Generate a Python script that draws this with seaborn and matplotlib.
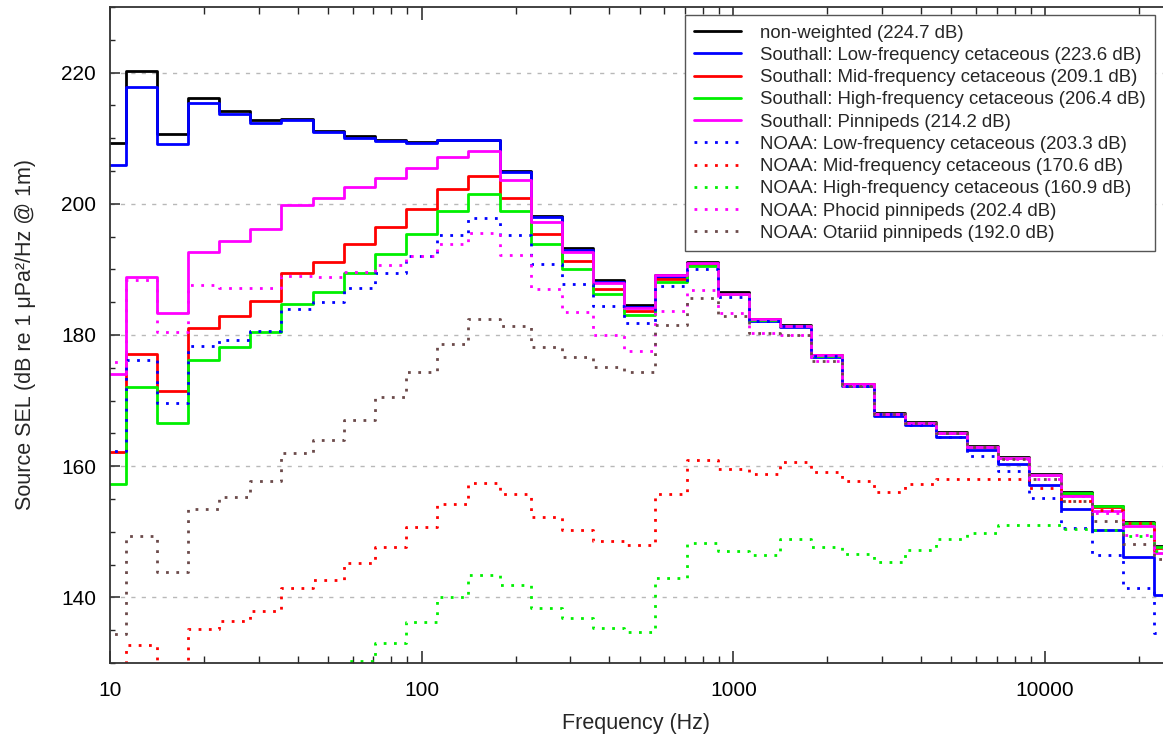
import numpy as np
import pandas as pd
import matplotlib
matplotlib.use("Agg")
import matplotlib.pyplot as plt
from matplotlib.ticker import FixedLocator, MultipleLocator, LogLocator, NullFormatter, FuncFormatter
import seaborn as sns

# 1/3-octave band centre frequencies (Hz)
band_centers_hz = [10, 12.5, 16, 20, 25, 31.5, 40, 50, 63, 80, 100, 125, 160, 200, 250,
                   315, 400, 500, 630, 800, 1000, 1250, 1600, 2000, 2500, 3150, 4000,
                   5000, 6300, 8000, 10000, 12500, 16000, 20000, 25000]

# Source SEL per band (dB re 1 uPa^2/Hz @ 1m)
non_weighted = [209.3, 220.2, 210.6, 216.2, 214.2, 212.7, 213.0, 211.1, 210.3, 209.7, 209.4,
                209.8, 209.8, 205.0, 198.2, 193.3, 188.4, 184.5, 189.2, 191.1, 186.5, 182.5,
                181.5, 177.0, 172.6, 168.1, 166.7, 165.2, 163.1, 161.4, 158.8, 156.0, 154.0,
                151.5, 147.8]
southall_lf = [205.9, 217.8, 209.05, 215.3, 213.7, 212.3, 212.7, 210.9, 210.1, 209.6, 209.3,
               209.7, 209.7, 204.8, 198.0, 193.0, 188.1, 184.3, 188.9, 190.8, 186.2, 182.2,
               181.2, 176.7, 172.2, 167.7, 166.3, 164.5, 162.5, 160.4, 157.1, 153.5, 150.2,
               146.1, 140.3]
southall_mf = [162.2, 177.1, 171.5, 181.1, 182.9, 185.2, 189.4, 191.2, 193.8, 196.5, 199.2,
               202.2, 204.2, 200.9, 195.4, 191.3, 187.0, 183.6, 188.5, 190.6, 186.2, 182.4,
               181.4, 176.9, 172.5, 168.0, 166.6, 165.1, 163.0, 161.3, 158.7, 155.8, 153.8,
               151.3, 147.5]
southall_hf = [157.3, 172.1, 166.6, 176.2, 178.1, 180.5, 184.7, 186.5, 189.4, 192.3, 195.4,
               198.9, 201.5, 198.9, 193.8, 190.1, 186.2, 183.0, 188.1, 190.5, 186.2, 182.3,
               181.3, 176.8, 172.4, 168.0, 166.6, 165.1, 163.0, 161.3, 158.7, 155.9, 153.9,
               151.4, 147.7]
southall_pinn = [174.1, 188.9, 183.3, 192.7, 194.3, 196.1, 199.8, 200.9, 202.6, 204.0, 205.5,
                 207.1, 208.0, 203.7, 197.3, 192.7, 187.9, 184.1, 189.1, 191.0, 186.3, 182.4,
                 181.4, 176.9, 172.5, 168.0, 166.6, 165.1, 163.0, 161.2, 158.6, 155.4, 153.2,
                 150.9, 146.8]
noaa_lf = [162.3, 176.2, 169.7, 178.3, 179.3, 180.65, 183.9, 185.0, 187.1, 189.4, 192.0,
           195.2, 197.8, 195.3, 190.8, 187.7, 184.4, 181.9, 187.5, 190.0, 185.8, 182.2,
           181.3, 176.8, 172.3, 167.9, 166.3, 164.4, 161.6, 159.2, 155.2, 150.6, 146.4,
           141.4, 134.5]
noaa_mf = [127.0, 132.7, 127.5, 135.2, 136.35, 137.9, 141.5, 142.7, 145.2, 147.7, 150.7,
           154.25, 157.4, 155.8, 152.2, 150.35, 148.6, 148.0, 155.8, 161.0, 159.5, 158.75,
           160.7, 159.1, 157.75, 156.1, 157.3, 158.1, 158.0, 158.1, 156.7, 154.75, 153.3,
           151.3, 147.3]
noaa_hf = [110.0, 114.0, 113.0, 117.0, 119.0, 121.0, 124.0, 127.5, 130.3, 133.05, 136.2,
           140.0, 143.35, 141.9, 138.4, 136.85, 135.3, 134.8, 142.9, 148.3, 147.1, 146.5,
           148.9, 147.65, 146.65, 145.4, 147.25, 148.9, 149.8, 151.0, 151.0, 150.45, 150.2,
           149.3, 147.0]
noaa_phocid = [175.85, 188.4, 180.4, 187.6, 187.2, 187.2, 189.0, 188.9, 189.6, 190.6, 192.0,
               193.8, 195.5, 192.2, 187.0, 183.5, 180.0, 177.6, 183.6, 186.8, 183.4, 180.35,
               180.0, 176.0, 172.25, 167.95, 166.6, 165.05, 162.9, 161.1, 158.05, 155.4, 152.9,
               149.5, 147.4]
noaa_otariid = [134.4, 149.3, 143.8, 153.4, 155.3, 157.7, 162.0, 164.0, 167.1, 170.6, 174.3,
                178.6, 182.4, 181.4, 178.2, 176.7, 175.1, 174.3, 181.5, 185.7, 182.9, 180.25,
                180.0, 176.0, 172.3, 167.9, 166.6, 165.0, 162.9, 161.1, 158.0, 154.65, 151.7,
                148.1, 145.8]

series_labels = [
    "non-weighted (224.7 dB)",
    "Southall: Low-frequency cetaceous (223.6 dB)",
    "Southall: Mid-frequency cetaceous (209.1 dB)",
    "Southall: High-frequency cetaceous (206.4 dB)",
    "Southall: Pinnipeds (214.2 dB)",
    "NOAA: Low-frequency cetaceous (203.3 dB)",
    "NOAA: Mid-frequency cetaceous (170.6 dB)",
    "NOAA: High-frequency cetaceous (160.9 dB)",
    "NOAA: Phocid pinnipeds (202.4 dB)",
    "NOAA: Otariid pinnipeds (192.0 dB)",
]
series_values = [non_weighted, southall_lf, southall_mf, southall_hf, southall_pinn,
                 noaa_lf, noaa_mf, noaa_hf, noaa_phocid, noaa_otariid]
series_colors = ["#000000", "#0000ff", "#ff0000", "#00f000", "#ff00ff",
                 "#0000ff", "#ff0000", "#00f000", "#ff00ff", "#6b4a4a"]
series_dotted = [False] * 5 + [True] * 5

x_ticks = [10, 100, 1000, 10000]
y_ticks = [140, 160, 180, 200, 220]

# ---------------------------------------------------------------
sns.set_style("ticks")
plt.rcParams["font.family"] = ["Liberation Sans", "DejaVu Sans"]

W, H = 1163, 745
fig = plt.figure(figsize=(W / 100, H / 100), dpi=100)
ax = fig.add_axes([110 / W, 1 - 663 / H, (W - 110) / W, (663 - 7) / H])

# band edges from nominal band centres (exact base-10 third-octave bands)
band_index = np.round(10 * np.log10(band_centers_hz))
lower_edges = 10 ** ((band_index - 0.5) / 10)
upper_last = 10 ** ((band_index[-1] + 0.5) / 10)
edges = np.append(lower_edges, upper_last)

for lab, vals, col, dotted in zip(series_labels, series_values, series_colors, series_dotted):
    df = pd.DataFrame({"freq": edges, "sel": list(vals) + [vals[-1]]})
    kw = dict(linestyle=(0, (1, 2.7)), lw=2.0) if dotted else dict(linestyle="-", lw=2.0)
    sns.lineplot(data=df, x="freq", y="sel", ax=ax, color=col, drawstyle="steps-post",
                 estimator=None, sort=False, label=lab, **kw)

ax.set_xscale("log")
ax.set_xlim(10, 23900)
ax.set_ylim(130, 230)

ax.xaxis.set_major_locator(FixedLocator(x_ticks))
ax.xaxis.set_major_formatter(FuncFormatter(lambda v, p: f"{int(round(v))}"))
ax.xaxis.set_minor_locator(LogLocator(base=10, subs=np.arange(2, 10)))
ax.xaxis.set_minor_formatter(NullFormatter())
ax.yaxis.set_major_locator(FixedLocator(y_ticks))
ax.yaxis.set_minor_locator(MultipleLocator(5))

ax.tick_params(axis="x", which="major", direction="in", length=9, width=1.1,
               top=True, bottom=True, labelsize=15, pad=13, colors="#222222")
ax.tick_params(axis="x", which="minor", direction="in", length=5, width=1.0,
               top=True, bottom=True)
ax.tick_params(axis="y", which="major", direction="in", length=7, width=1.1,
               left=True, right=False, labelsize=15, pad=10)
ax.tick_params(axis="y", which="minor", direction="in", length=3.6, width=1.0,
               left=True, right=False)
for lbl in ax.get_xticklabels() + ax.get_yticklabels():
    lbl.set_color("black")

for side in ["left", "top", "bottom"]:
    ax.spines[side].set_color("#333333")
    ax.spines[side].set_linewidth(1.3)
ax.spines["right"].set_visible(False)

ax.set_axisbelow(True)
ax.yaxis.grid(True, which="major", color="#b8b8b8", linestyle=(0, (3, 4.5)), lw=1.0)
ax.xaxis.grid(False)

ax.set_xlabel("Frequency (Hz)", fontsize=15.5, labelpad=9)
ax.set_ylabel("Source SEL (dB re 1 \u03bcPa\u00b2/Hz @ 1m)", fontsize=15.5, labelpad=18)

leg = ax.legend(loc="upper right", fontsize=13.4, frameon=True, fancybox=False,
                edgecolor="#555555", framealpha=1.0, handlelength=2.5,
                handletextpad=1.0, labelspacing=0.28, borderpad=0.5,
                borderaxespad=0.45)
leg.get_frame().set_linewidth(1.0)

fig.savefig("out.png", dpi=100)
